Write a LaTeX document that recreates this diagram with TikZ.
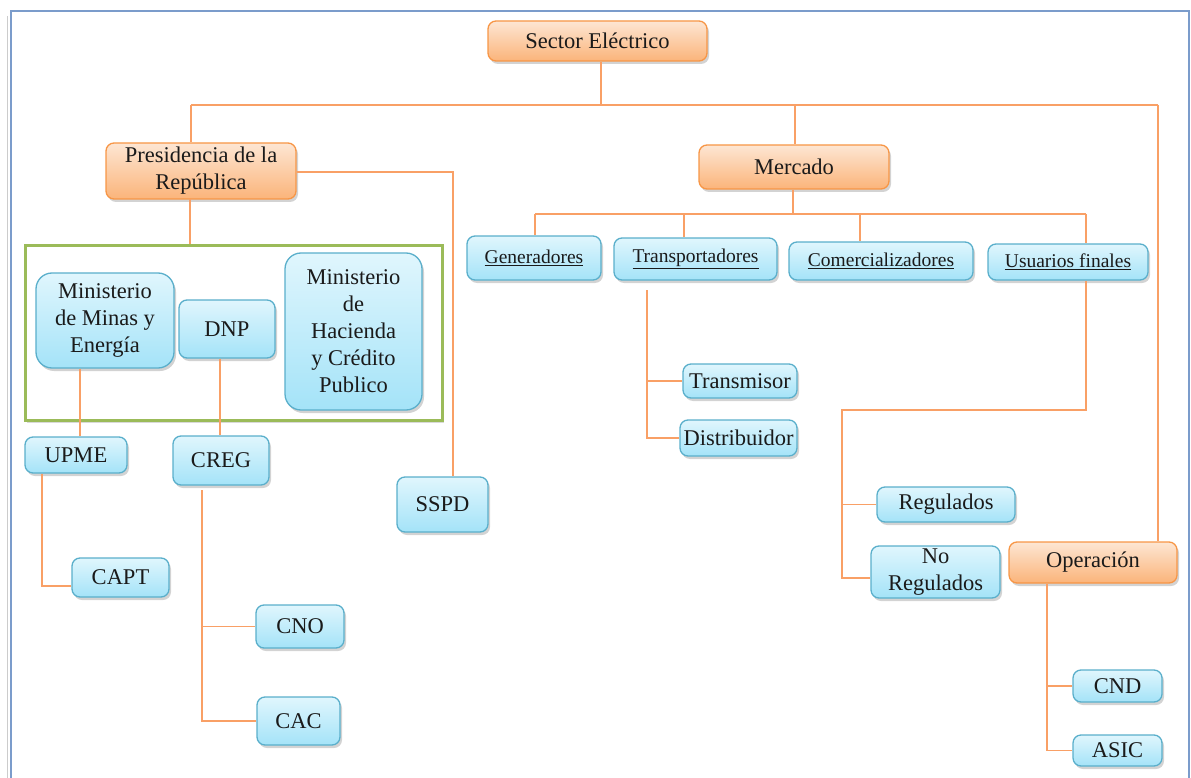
\documentclass[tikz,border=0pt]{standalone}
\usepackage{fontspec}
\setmainfont{Liberation Serif}
\newfontfamily\serifx{Liberation Serif}
\usetikzlibrary{shadows}
\definecolor{orb}{HTML}{F79646}
\definecolor{ort}{HTML}{FDE6D3}
\definecolor{orbo}{HTML}{FBB47A}
\definecolor{blb}{HTML}{5AAFCB}
\definecolor{blt}{HTML}{E0F6FD}
\definecolor{blbo}{HTML}{A4E3F8}
\definecolor{frm}{HTML}{7B9CCB}
\definecolor{grn}{HTML}{9BBB59}
\definecolor{lnk}{HTML}{F9A066}
\definecolor{txt}{HTML}{1A1A1A}
\tikzset{
  base/.style={rounded corners=8pt, line width=1.3pt, align=center, inner sep=1pt,
    text=txt, font=\serifx\fontsize{22.5}{27}\selectfont,
    drop shadow={opacity=0.35, shadow xshift=2pt, shadow yshift=-3pt}},
  obox/.style={base, draw=orb, top color=ort, bottom color=orbo},
  bbox/.style={base, draw=blb, top color=blt, bottom color=blbo},
  ubox/.style={bbox, font=\serifx\fontsize{19.5}{22}\selectfont},
  bigr/.style={rounded corners=16pt},
  link/.style={draw=lnk, line width=1.4pt},
}
\newcommand{\bx}[6]{\node[#1, minimum width=#4pt, minimum height=#5pt] (#2) at (#3) {#6};}
\begin{document}
\begin{tikzpicture}[x=1pt,y=-1pt]
\useasboundingbox (0,0) rectangle (1191,778);
% frame
\draw[black!20, line width=1pt] (7.5,16) -- (7.5,778);
\draw[frm, line width=2pt] (11,778) -- (11,11) -- (1189,11) -- (1189,778);

% green group
\node[draw=grn, line width=3pt, minimum width=417pt, minimum height=175pt, fill=white,
  drop shadow={opacity=0.3, shadow xshift=2pt, shadow yshift=-3pt}] (grp) at (233.5,332.5) {};

% nodes
\bx{obox}{sector}{597.5,41}{219}{40}{Sector Eléctrico}
\bx{obox}{pres}{201,171}{190}{56}{Presidencia de la\\República}
\bx{obox}{merc}{794,167}{190}{44}{Mercado}
\bx{obox}{oper}{1093,562.5}{168}{41}{Operación}

\bx{ubox}{gen}{534,258}{134}{44}{\underline{Generadores}}
\bx{ubox}{trans}{695.5,259}{163}{42}{\underline{Transportadores}}
\bx{ubox}{comer}{881,261}{184}{38}{\underline{Comercializadores}}
\bx{ubox}{usu}{1068,262}{160}{36}{\underline{Usuarios finales}}

\bx{bbox}{transm}{740,381}{114}{34}{Transmisor}
\bx{bbox}{distr}{738.5,438}{117}{36}{Distribuidor}
\bx{bbox}{regul}{946,504.5}{138}{35}{Regulados}
\bx{bbox}{noreg}{935.5,572}{129}{52}{No\\Regulados}
\bx{bbox}{cnd}{1117.5,686}{89}{32}{CND}
\bx{bbox}{asic}{1117.5,750.5}{89}{31}{ASIC}

\bx{bbox,bigr}{minas}{105,320.5}{138}{95}{Ministerio\\de Minas y\\Energía}
\bx{bbox}{dnp}{227,329}{96}{58}{DNP}
\bx{bbox,bigr}{hac}{353.5,331.5}{137}{157}{Ministerio\\de\\Hacienda\\y Crédito\\Publico}
\bx{bbox}{upme}{76,455}{102}{36}{UPME}
\bx{bbox}{creg}{221,460.5}{96}{49}{CREG}
\bx{bbox}{sspd}{442.5,504.5}{91}{55}{SSPD}
\bx{bbox}{capt}{120.5,577.5}{97}{39}{CAPT}
\bx{bbox}{cno}{300,626.5}{88}{43}{CNO}
\bx{bbox}{cac}{298.5,721}{83}{48}{CAC}

% connectors
\coordinate (bl) at (191,105);
\coordinate (bm) at (795,105);
\coordinate (br) at (1158,105);
\coordinate (bs) at (601,105);
\draw[link] (bs |- sector.south) -- (bs);
\draw[link] (bl) -- (br);
\draw[link] (bl) -- (bl |- pres.north);
\draw[link] (bm) -- (bm |- merc.north);
\draw[link] (br) -- (br |- oper.north);

\coordinate (pg) at (190,199);
\draw[link] (pg) -- (pg |- grp.north);
\coordinate (ps) at (453,172);
\draw[link] (pres.east |- ps) -- (ps) -- (ps |- sspd.north);

\coordinate (mb) at (793,214);
\coordinate (hl) at (535,214);
\coordinate (hr) at (1086,214);
\coordinate (ht) at (684,214);
\coordinate (hc) at (860,214);
\draw[link] (mb |- merc.south) -- (mb);
\draw[link] (hl) -- (hr);
\draw[link] (hl) -- (hl |- gen.north);
\draw[link] (ht) -- (ht |- trans.north);
\draw[link] (hc) -- (hc |- comer.north);
\draw[link] (hr) -- (hr |- usu.north);

\coordinate (tv) at (647,290);
\draw[link] (tv) -- (tv |- distr.west) -- (distr.west);
\draw[link] (tv |- transm.west) -- (transm.west);

\coordinate (uv) at (1086,410);
\coordinate (ul) at (842,410);
\coordinate (nr) at (842,578);
\draw[link] (uv |- usu.south) -- (uv) -- (ul) -- (nr) -- (nr -| noreg.west);
\draw[link] (ul |- regul.west) -- (regul.west);

\coordinate (ov) at (1047,583);
\draw[link] (ov |- oper.south) -- (ov |- asic.west) -- (asic.west);
\draw[link] (ov |- cnd.west) -- (cnd.west);

\coordinate (mu) at (80,368);
\draw[link] (mu |- minas.south) -- (mu |- upme.north);
\coordinate (dc) at (220,358);
\draw[link] (dc |- dnp.south) -- (dc |- creg.north);

\coordinate (uc) at (42,586);
\draw[link] (uc |- upme.south) -- (uc) -- (uc -| capt.west);
\coordinate (cv) at (202,490);
\draw[link] (cv) -- (cv |- cac.west) -- (cac.west);
\draw[link] (cv |- cno.west) -- (cno.west);
\end{tikzpicture}
\end{document}
